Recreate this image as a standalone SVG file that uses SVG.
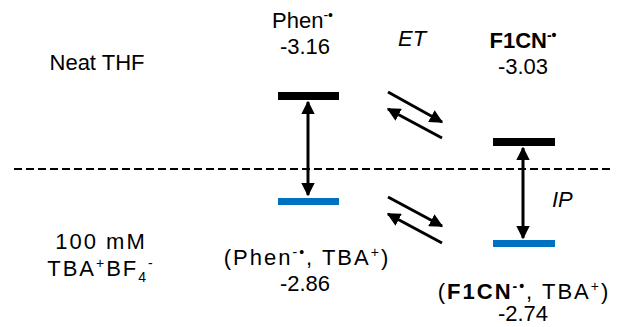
<svg xmlns="http://www.w3.org/2000/svg" width="621" height="327" viewBox="0 0 621 327">
<style>
text{font-family:"Liberation Sans",Arial,sans-serif;font-size:22px;fill:#000}
.c{text-anchor:middle}
.b{font-weight:bold}
.i{font-style:italic}
.sup{font-size:14px}
.sp{letter-spacing:2px}
.k{fill:#000}
.bl{fill:#0070C0}
.ln{stroke:#000;stroke-width:3;fill:none}
</style>
<defs>
<marker id="ah" viewBox="0 0 10 10" refX="9" refY="5" markerWidth="4.5" markerHeight="4.5" orient="auto-start-reverse" markerUnits="strokeWidth">
<path d="M0,0 L10,5 L0,10 Z" fill="#000"/>
</marker>
</defs>
<g id="labels">
<text class="c" x="97" y="70">Neat THF</text>
<text class="c sp" x="101" y="249">100 mM</text>
<text class="c sp" x="101" y="276">TBA<tspan class="sup" dy="-8">+</tspan><tspan dy="8">BF</tspan><tspan class="sup" dy="6">4</tspan><tspan class="sup" dy="-14">-</tspan></text>
</g>
<g id="phen">
<text x="272" y="28">Phen<tspan class="sup" dy="-8">-•</tspan></text>
<text class="c" x="305" y="54">-3.16</text>
<rect class="k" x="278" y="92" width="61" height="8"/>
</g>
<g id="phen-tba">
<rect class="bl" x="278" y="198" width="61" height="7"/>
<text class="c sp" x="307" y="265">(Phen<tspan class="sup" dy="-8">-•</tspan><tspan dy="8">, TBA</tspan><tspan class="sup" dy="-8">+</tspan><tspan dy="8">)</tspan></text>
<text class="c" x="305" y="291">-2.86</text>
</g>
<g id="f1cn">
<text class="c" x="523" y="48"><tspan class="b">F1CN</tspan><tspan class="sup b" dy="-8">-•</tspan></text>
<text class="c" x="523" y="74">-3.03</text>
<rect class="k" x="493" y="138" width="62" height="8"/>
</g>
<g id="f1cn-tba">
<rect class="bl" x="493" y="240" width="62" height="7"/>
<text class="c sp" x="524" y="299">(<tspan class="b">F1CN</tspan><tspan class="sup b" dy="-8">-•</tspan><tspan dy="8">, TBA</tspan><tspan class="sup" dy="-8">+</tspan><tspan dy="8">)</tspan></text>
<text class="c" x="523" y="321">-2.74</text>
</g>
<g id="connectors">
<line x1="14" y1="169" x2="610" y2="169" stroke="#000" stroke-width="2" stroke-dasharray="8,4"/>
<line class="ln" x1="308" y1="102" x2="308" y2="195" marker-start="url(#ah)" marker-end="url(#ah)"/>
<line class="ln" x1="523" y1="148" x2="523" y2="238" marker-start="url(#ah)" marker-end="url(#ah)"/>
<line class="ln" x1="388" y1="92" x2="442" y2="122" marker-end="url(#ah)"/>
<line class="ln" x1="442" y1="138" x2="388" y2="109" marker-end="url(#ah)"/>
<line class="ln" x1="388" y1="197" x2="442" y2="226" marker-end="url(#ah)"/>
<line class="ln" x1="442" y1="243" x2="388" y2="214" marker-end="url(#ah)"/>
<text class="i" x="398" y="46">ET</text>
<text class="i" x="552" y="207">IP</text>
</g>
</svg>
